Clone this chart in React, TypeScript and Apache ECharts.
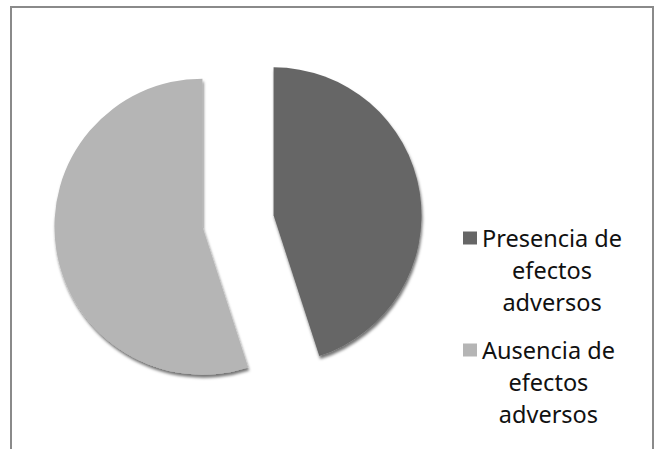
import React, { useEffect, useRef } from "react";
import * as echarts from "echarts";

const categories = ["Presencia de efectos adversos", "Ausencia de efectos adversos"];
const legendLines = [
  ["Presencia de", "efectos", "adversos"],
  ["Ausencia de", "efectos", "adversos"],
];
const values = [45, 55];
const colors = ["#666666", "#b5b5b5"];

export default function App() {
  const ref = useRef<HTMLDivElement>(null);
  useEffect(() => {
    if (!ref.current) return;
    const chart = echarts.init(ref.current, null, { renderer: "svg" });
    const lineH = 32;
    const mkLegend = (i: number, top: number) => ({
      data: [categories[i]],
      orient: "vertical",
      left: 463,
      top,
      padding: 0,
      itemWidth: 14,
      itemHeight: 13,
      selectedMode: false,
      icon: "rect",
      formatter: () => legendLines[i].map((s) => `{t|${s}}`).join("\n"),
      textStyle: {
        padding: [lineH * 2, 0, 0, 0],
        rich: {
          t: {
            fontFamily: "Noto Sans",
            fontSize: 23.5,
            lineHeight: lineH,
            color: "#111111",
            align: "center",
          },
        },
      },
    });
    chart.setOption({
      animation: false,
      backgroundColor: "#ffffff",
      graphic: [
        {
          type: "rect",
          shape: { x: 11, y: 7, width: 642, height: 470 },
          style: { fill: "none", stroke: "#8a8a8a", lineWidth: 2 },
          silent: true,
        },
      ],
      legend: [mkLegend(0, 226), mkLegend(1, 338)],
      series: [
        {
          type: "pie",
          center: [238, 221],
          radius: 148,
          startAngle: 90,
          clockwise: true,
          selectedMode: "multiple",
          selectedOffset: 36,
          label: { show: false },
          labelLine: { show: false },
          emphasis: { disabled: true },
          itemStyle: {
            shadowBlur: 3,
            shadowOffsetX: 1,
            shadowOffsetY: 3,
            shadowColor: "rgba(0,0,0,0.55)",
          },
          data: categories.map((name, i) => ({
            name,
            value: values[i],
            selected: true,
            itemStyle: { color: colors[i] },
          })),
        },
      ],
    });
    return () => chart.dispose();
  }, []);
  return (
    <div
      ref={ref}
      style={{ position: "fixed", left: 0, top: 0, width: 655, height: 449, background: "#fff" }}
    />
  );
}
